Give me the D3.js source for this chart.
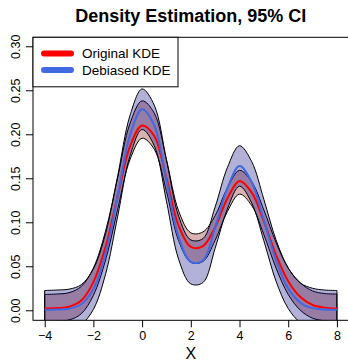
<!DOCTYPE html>
<html>
<head>
<meta charset="utf-8">
<script src="https://cdn.jsdelivr.net/npm/d3@7"></script>
<style>
  body { margin: 0; background: #fff; }
  svg text { font-family: "Liberation Sans", Arial, Helvetica, sans-serif; }
</style>
</head>
<body>
<svg id="densitySVG" width="348" height="364"></svg>
<script>
// evaluation grid
var gridX = [-4,-3.5,-3,-2.5,-2,-1.5,-1,-0.5,0,0.5,1,1.5,2,2.5,3,3.5,4,4.5,5,5.5,6,6.5,7,7.5,8];

// original KDE and its 95% band
var kdeOrig   = [0.002,0.0025,0.004,0.011,0.032,0.072,0.130,0.186,0.210,0.198,0.150,0.096,0.072,0.073,0.0945,0.127,0.147,0.134,0.101,0.063,0.033,0.015,0.006,0.003,0.002];
var origUpper = [0.018,0.0185,0.020,0.027,0.048,0.090,0.151,0.212,0.238,0.224,0.171,0.113,0.088,0.089,0.1075,0.139,0.159,0.146,0.114,0.077,0.048,0.031,0.022,0.019,0.0185];
var origLower = [-0.013,-0.0125,-0.011,-0.004,0.017,0.057,0.115,0.171,0.1955,0.183,0.135,0.079,0.0545,0.0555,0.0795,0.112,0.132,0.119,0.086,0.048,0.018,0.000,-0.009,-0.012,-0.013];

// debiased KDE and its 95% band
var kdeDeb   = [0.0005,0.0008,0.0018,0.0068,0.0241,0.0644,0.1301,0.1984,0.2284,0.210,0.1475,0.083,0.055,0.0565,0.0943,0.1386,0.164,0.1458,0.1024,0.0568,0.0249,0.0086,0.0024,0.0008,0.0005];
var debUpper = [0.0225,0.023,0.024,0.029,0.047,0.087,0.153,0.221,0.2515,0.233,0.171,0.107,0.080,0.0815,0.1175,0.162,0.187,0.169,0.126,0.080,0.048,0.031,0.025,0.023,0.0225];
var debLower = [-0.0215,-0.021,-0.020,-0.016,0.001,0.041,0.107,0.175,0.2054,0.187,0.124,0.058,0.030,0.0315,0.0705,0.115,0.141,0.122,0.079,0.033,0.002,-0.014,-0.020,-0.021,-0.0215];

var xTicks = [-4,-2,0,2,4,6,8];
var yTicks = [0,0.05,0.10,0.15,0.20,0.25,0.30];
var legendNames = ["Original KDE","Debiased KDE"];
var legendColors = ["#ff0000","#4169e1"];

drawDensity();

function drawDensity() {
  var svg = d3.select("svg#densitySVG");

  // plot region (R-style, 4% padding on x)
  var pLeft = 33, pRight = 348.6, pTop = 37.3, pBottom = 320.3;

  var x = d3.scaleLinear().domain([-4.48, 8.48]).range([pLeft, pRight]);
  var y = d3.scaleLinear().domain([-0.0114, 0.3102]).range([pBottom, pTop]);

  var rows = gridX.map(function(v, i) {
    return {x: v, f: kdeOrig[i], fu: origUpper[i], fl: origLower[i],
            d: kdeDeb[i], du: debUpper[i], dl: debLower[i]};
  });

  svg.append("clipPath").attr("id", "plotClip")
    .append("rect")
    .attr("x", pLeft).attr("y", pTop)
    .attr("width", pRight - pLeft).attr("height", pBottom - pTop);

  var plot = svg.append("g").attr("clip-path", "url(#plotClip)");

  var curve = d3.curveCatmullRom.alpha(0.5);

  // bands: original first, debiased on top
  plot.append("path")
    .datum(rows)
    .attr("d", d3.area().curve(curve).x(d => x(d.x)).y0(d => y(d.fl)).y1(d => y(d.fu)))
    .attr("fill", "#800000").attr("fill-opacity", 0.3)
    .attr("stroke", "#000").attr("stroke-width", 1);

  plot.append("path")
    .datum(rows)
    .attr("d", d3.area().curve(curve).x(d => x(d.x)).y0(d => y(d.dl)).y1(d => y(d.du)))
    .attr("fill", "#000080").attr("fill-opacity", 0.3)
    .attr("stroke", "#000").attr("stroke-width", 1);

  plot.append("path")
    .datum(rows)
    .attr("d", d3.line().curve(curve).x(d => x(d.x)).y(d => y(d.f)))
    .attr("fill", "none").attr("stroke", legendColors[0]).attr("stroke-width", 2);

  plot.append("path")
    .datum(rows)
    .attr("d", d3.line().curve(curve).x(d => x(d.x)).y(d => y(d.d)))
    .attr("fill", "none").attr("stroke", legendColors[1]).attr("stroke-width", 2);

  // axes
  svg.append("g")
    .attr("transform", "translate(0," + pBottom + ")")
    .call(d3.axisBottom(x).tickValues(xTicks).tickSize(7).tickPadding(4).tickSizeOuter(0));

  var yAxis = svg.append("g")
    .attr("transform", "translate(" + pLeft + ",0)")
    .call(d3.axisLeft(y).tickValues(yTicks).tickFormat(d3.format(".2f")).tickSize(7).tickSizeOuter(0));

  svg.selectAll(".tick text").attr("font-size", "12.5px").attr("fill", "#000")
    .style("font-family", "'Liberation Sans', Arial, sans-serif");
  svg.selectAll(".domain").remove();

  yAxis.selectAll(".tick text")
    .attr("transform", "rotate(-90)")
    .attr("x", 0).attr("y", -13).attr("dy", 0)
    .attr("text-anchor", "middle");

  // box
  svg.append("rect")
    .attr("x", pLeft).attr("y", pTop)
    .attr("width", pRight - pLeft).attr("height", pBottom - pTop)
    .attr("fill", "none").attr("stroke", "#000").attr("stroke-width", 1);

  // title + x label
  svg.append("text")
    .attr("x", (pLeft + pRight) / 2).attr("y", 22)
    .attr("text-anchor", "middle")
    .attr("font-weight", "bold").attr("font-size", "18px")
    .text("Density Estimation, 95% CI");

  svg.append("text")
    .attr("x", (pLeft + pRight) / 2).attr("y", 359)
    .attr("text-anchor", "middle")
    .attr("font-size", "16px")
    .text("X");

  // legend
  var legend = svg.append("g");
  legend.append("rect")
    .attr("x", pLeft).attr("y", pTop).attr("width", 145).attr("height", 49.5)
    .attr("fill", "#fff").attr("stroke", "#000").attr("stroke-width", 1);

  legendNames.forEach(function(name, i) {
    var ly = 53.5 + i * 16.6;
    legend.append("line")
      .attr("x1", 44).attr("x2", 71).attr("y1", ly).attr("y2", ly)
      .attr("stroke", legendColors[i]).attr("stroke-width", 6).attr("stroke-linecap", "round");
    legend.append("text")
      .attr("x", 82).attr("y", ly).attr("dy", "0.35em")
      .attr("font-size", "13.5px")
      .text(name);
  });
}
</script>
</body>
</html>
